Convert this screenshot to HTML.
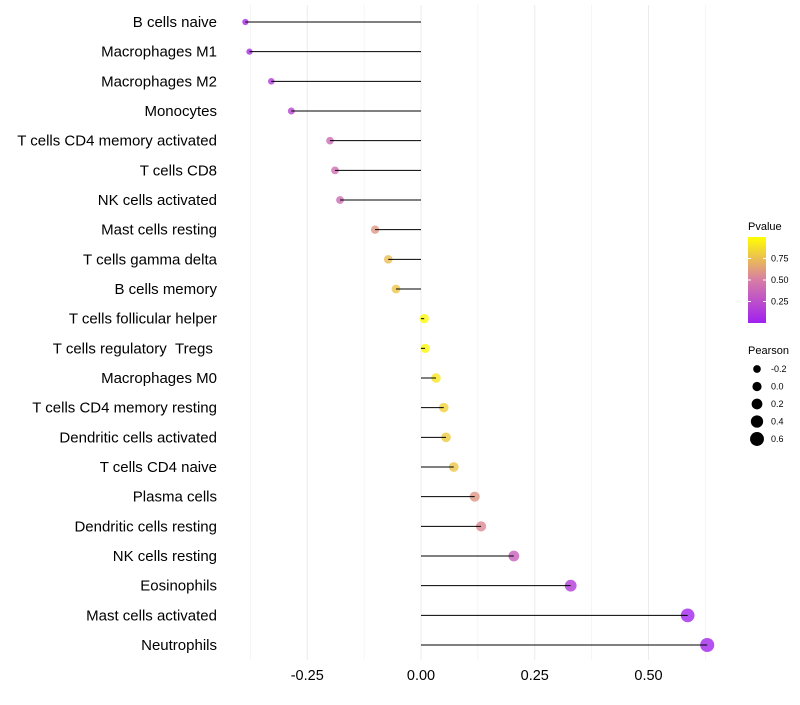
<!DOCTYPE html>
<html><head><meta charset="utf-8"><style>
body{margin:0;background:#fff;font-family:"Liberation Sans",sans-serif}
</style></head><body>
<svg id="chart" width="800" height="700" xmlns="http://www.w3.org/2000/svg" font-family="Liberation Sans, sans-serif"></svg>
<script>
const categories=["B cells naive","Macrophages M1","Macrophages M2","Monocytes","T cells CD4 memory activated","T cells CD8","NK cells activated","Mast cells resting","T cells gamma delta","B cells memory","T cells follicular helper","T cells regulatory\u00a0\u00a0Tregs\u00a0","Macrophages M0","T cells CD4 memory resting","Dendritic cells activated","T cells CD4 naive","Plasma cells","Dendritic cells resting","NK cells resting","Eosinophils","Mast cells activated","Neutrophils"];
const pearson=[-0.386,-0.377,-0.329,-0.285,-0.2,-0.189,-0.178,-0.101,-0.072,-0.055,0.007,0.009,0.033,0.05,0.055,0.072,0.118,0.132,0.204,0.329,0.586,0.629];
const pvalue=[0.05,0.07,0.15,0.2,0.4,0.42,0.4,0.6,0.75,0.78,0.98,0.97,0.9,0.82,0.8,0.78,0.6,0.55,0.35,0.15,0.03,0.02];
const xTicks=[-0.25,0,0.25,0.5];
const xTickLabels=["-0.25","0.00","0.25","0.50"];
const pTicks=[0.25,0.5,0.75];
const sizeLegend=[-0.2,0,0.2,0.4,0.6];

const svg=document.getElementById('chart');
const NS='http://www.w3.org/2000/svg';
function mk(t,a,p){const e=document.createElementNS(NS,t);for(const k in a)e.setAttribute(k,a[k]);(p||svg).appendChild(e);return e;}
const x=v=>421+v*455;
const y=i=>22+i*(623/21);
const r=v=>Math.max(2,4.6+3.9*v);
function col(p){
 const s=[[0,[160,32,240]],[0.5,[215,125,165]],[1,[255,255,0]]];
 let a=s[0],b=s[1];if(p>0.5){a=s[1];b=s[2];}
 const t=(p-a[0])/(b[0]-a[0]);
 const c=a[1].map((v,i)=>Math.round(v+(b[1][i]-v)*t));
 return `rgb(${c.join(',')})`;
}
for(let v=-0.375;v<=0.626;v+=0.125){
 const g=mk('line',{x1:x(v),x2:x(v),y1:5,y2:660,stroke:'#ebebeb','stroke-width':Math.abs((v*8)%2)<0.01?1:0.5});
 
 
}
xTicks.forEach((v,i)=>{
 const t=mk('text',{x:x(v),y:680,'text-anchor':'middle','font-size':14.5,fill:'#000'});
 t.textContent=xTickLabels[i];
 
 
});
categories.forEach((c,i)=>{
 const t=mk('text',{x:217,y:y(i)+5,'text-anchor':'end','font-size':15,fill:'#000'});
 t.textContent=c;
 
 
 const d=mk('circle',{cx:x(pearson[i]),cy:y(i),r:r(pearson[i]),fill:col(pvalue[i]),'fill-opacity':0.8});
 
 
 const l=mk('line',{x1:x(0),x2:x(pearson[i]),y1:y(i),y2:y(i),stroke:'#000','stroke-width':1});
 
 
});
const lt=mk('text',{x:748,y:230,'font-size':11});lt.textContent='Pvalue';


const defs=mk('defs',{});
const gr=mk('linearGradient',{id:'pg',x1:0,y1:1,x2:0,y2:0},defs);
[0,0.25,0.5,0.75,1].forEach(p=>mk('stop',{offset:p,'stop-color':col(p)},gr));
const cb=mk('rect',{x:748,y:237,width:18,height:86,fill:'url(#pg)'});


const py=p=>323-p*86;
pTicks.forEach(p=>{
 mk('line',{x1:748,x2:751,y1:py(p),y2:py(p),stroke:'#fff'});
 mk('line',{x1:763,x2:766,y1:py(p),y2:py(p),stroke:'#fff'});
 const t=mk('text',{x:771,y:py(p)+3,'font-size':9});t.textContent=p.toFixed(2);
 
 
});
const st=mk('text',{x:748,y:354,'font-size':11});st.textContent='Pearson';


sizeLegend.forEach((v,i)=>{
 const cy=369+i*17.5;
 const c=mk('circle',{cx:757,cy:cy,r:r(v),fill:'#000'});
 
 
 const t=mk('text',{x:771,y:cy+3,'font-size':9});t.textContent=v.toFixed(1);
 
 
});
</script>
</body></html>
